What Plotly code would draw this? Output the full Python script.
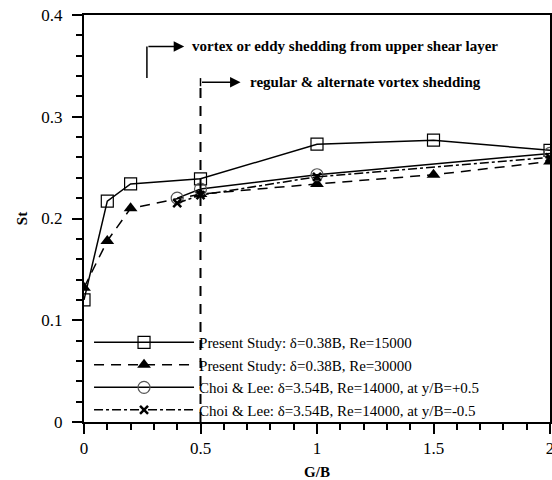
import plotly.graph_objects as go

# ---- data ----
gb_present_15000 = [0.0, 0.1, 0.2, 0.5, 1.0, 1.5, 2.0]
st_present_15000 = [0.120, 0.217, 0.234, 0.239, 0.273, 0.277, 0.267]

gb_present_30000 = [0.0, 0.1, 0.2, 0.5, 1.0, 1.5, 2.0]
st_present_30000 = [0.132, 0.178, 0.210, 0.224, 0.234, 0.243, 0.256]

gb_choi_plus = [0.4, 0.5, 1.0, 2.0]
st_choi_plus = [0.220, 0.229, 0.243, 0.264]

gb_choi_minus = [0.4, 0.5, 1.0, 2.0]
st_choi_minus = [0.215, 0.223, 0.241, 0.260]

names = [
    "Present Study: δ=0.38B, Re=15000",
    "Present Study: δ=0.38B, Re=30000",
    "Choi & Lee: δ=3.54B, Re=14000, at y/B=+0.5",
    "Choi & Lee: δ=3.54B, Re=14000, at y/B=-0.5",
]

x_ticks = [0, 0.5, 1, 1.5, 2]
x_tick_labels = ["0", "0.5", "1", "1.5", "2"]
y_ticks = [0, 0.1, 0.2, 0.3, 0.4]
y_tick_labels = ["0", "0.1", "0.2", "0.3", "0.4"]

FONT = "Liberation Serif, Times New Roman, serif"

fig = go.Figure()

fig.add_trace(go.Scatter(
    x=gb_present_15000, y=st_present_15000, name=names[0], mode="lines+markers",
    line=dict(color="black", width=1.5, dash="solid"),
    marker=dict(symbol="square-open", size=12, color="black", line=dict(width=1.2, color="black")),
))
fig.add_trace(go.Scatter(
    x=gb_present_30000, y=st_present_30000, name=names[1], mode="lines+markers",
    line=dict(color="black", width=1.5, dash="10px,7px"),
    marker=dict(symbol="triangle-up", size=12, color="black"),
))
fig.add_trace(go.Scatter(
    x=gb_choi_plus, y=st_choi_plus, name=names[2], mode="lines+markers",
    line=dict(color="black", width=1.5, dash="solid"),
    marker=dict(symbol="circle-open", size=12, color="#555555", line=dict(width=1.2, color="#555555")),
))
fig.add_trace(go.Scatter(
    x=gb_choi_minus, y=st_choi_minus, name=names[3], mode="lines+markers",
    line=dict(color="black", width=1.5, dash="dashdot"),
    marker=dict(symbol="x-thin-open", size=8, color="black", line=dict(width=2.5, color="black")),
))

# vertical dashed line at G/B = 0.5
fig.add_shape(type="line", x0=0.5, x1=0.5, y0=0, y1=0.331, xref="x", yref="y",
              line=dict(color="black", width=2, dash="10px,8px"))
fig.add_shape(type="line", x0=0.5, x1=0.5, y0=0.330, y1=0.338, xref="x", yref="y",
              line=dict(color="black", width=1.5))
# first annotation bracket
fig.add_shape(type="line", x0=0.27, x1=0.27, y0=0.338, y1=0.369, xref="x", yref="y",
              line=dict(color="black", width=1.5))

fig.add_annotation(x=0.43, y=0.369, ax=0.27, ay=0.369, axref="x", ayref="y", xref="x", yref="y",
                   text="", showarrow=True, arrowhead=2, arrowsize=1.4, arrowwidth=1.5, arrowcolor="black")
fig.add_annotation(x=0.672, y=0.334, ax=0.5, ay=0.334, axref="x", ayref="y", xref="x", yref="y",
                   text="", showarrow=True, arrowhead=2, arrowsize=1.4, arrowwidth=1.5, arrowcolor="black")
fig.add_annotation(x=0.457, y=0.370, xref="x", yref="y", xanchor="left", yanchor="middle",
                   text="<b>vortex or eddy shedding from upper shear layer</b>", showarrow=False,
                   font=dict(family=FONT, size=15, color="black"))
fig.add_annotation(x=0.702, y=0.334, xref="x", yref="y", xanchor="left", yanchor="middle",
                   text="<b>regular &amp; alternate vortex shedding</b>", showarrow=False,
                   font=dict(family=FONT, size=15, color="black"))

axis_common = dict(
    showline=True, linecolor="black", linewidth=2, mirror=True,
    showgrid=False, zeroline=False,
    ticks="outside", ticklen=10, tickwidth=2, tickcolor="black",
    tickfont=dict(family=FONT, size=17, color="black"),
    ticklabeloverflow="allow",
)

fig.update_xaxes(range=[0, 2], tickvals=x_ticks, ticktext=x_tick_labels,
                 minor=dict(dtick=0.1, ticks="outside", ticklen=6, tickwidth=1.5, tickcolor="black"),
                 title=dict(text="<b>G/B</b>", font=dict(family=FONT, size=15, color="black"), standoff=20),
                 **axis_common)
fig.update_yaxes(range=[0, 0.4], tickvals=y_ticks, ticktext=y_tick_labels,
                 minor=dict(dtick=0.02, ticks="outside", ticklen=6, tickwidth=1.5, tickcolor="black"),
                 title=dict(text="<b>St</b>", font=dict(family=FONT, size=15, color="black"), standoff=10),
                 ticklabelstandoff=6,
                 **axis_common)

fig.update_layout(
    width=552, height=480,
    margin=dict(l=84, r=2, t=15, b=58, autoexpand=False),
    paper_bgcolor="white", plot_bgcolor="white",
    showlegend=True,
    legend=dict(x=0.0108, y=-0.01, xanchor="left", yanchor="bottom",
                bgcolor="rgba(0,0,0,0)", font=dict(family=FONT, size=15, color="black"),
                itemwidth=100, tracegroupgap=0),
)

# remove the default 8px page margin so the figure fills the window exactly
fig.write_html("out.html", config={"displayModeBar": False},
               post_script="document.body.style.margin='0';document.body.style.overflow='hidden';")
